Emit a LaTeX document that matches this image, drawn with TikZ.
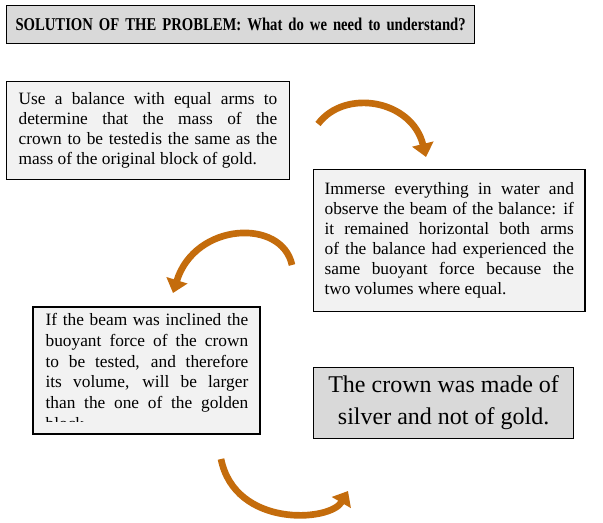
\documentclass[tikz,border=0pt]{standalone}
\usepackage{fontspec}
\setmainfont{Liberation Serif}
\newfontfamily\headfont[FakeStretch=0.815]{Liberation Serif}
\usetikzlibrary{positioning, arrows.meta}
\definecolor{boxgray}{HTML}{D9D9D9}
\definecolor{boxlight}{HTML}{F2F2F2}
\definecolor{curvorange}{HTML}{C46C0C}

\begin{document}
\begin{tikzpicture}[
        x=0.75pt, y=-0.75pt,
        headbox/.style={rectangle, draw=black, fill=boxgray, line width=0.9pt, anchor=north west,
          text width=345pt, align=center, font=\headfont\fontsize{13.5}{15}\selectfont\bfseries,
          minimum width=351pt, minimum height=28.5pt, inner sep=0pt},
        stepbox/.style={rectangle, draw=black, fill=boxlight, line width=0.9pt, anchor=north west,
          align=justify, font=\fontsize{13}{15}\selectfont, inner xsep=9pt, inner ysep=4pt},
        endbox/.style={rectangle, draw=black, fill=boxgray, line width=0.9pt, anchor=north west,
          align=center, font=\fontsize{18}{24}\selectfont, minimum width=195pt, minimum height=53.25pt},
        curvarrow/.style={-{Triangle[length=10pt,width=16pt]}, line width=5pt, draw=curvorange}
      ]
        \useasboundingbox (0,0) rectangle (603,522);

        \node[headbox] (title) at (6,5) {SOLUTION OF THE PROBLEM: What do we need to understand?};

        \node[stepbox, text width=194pt, minimum height=73.5pt] (mass) at (6,81)
          {Use a balance with equal arms to\linebreak determine that the mass of the\linebreak crown to be tested\hspace{1pt}is the same as the\linebreak mass of the original block of gold.};

        \node[stepbox, text width=187pt, inner xsep=8.25pt, minimum height=106.5pt] (water) at (313,169)
          {Immerse everything in water and\linebreak observe the beam of the balance: if\linebreak it remained horizontal both arms\linebreak of the balance had experienced the\linebreak same buoyant force because the\linebreak two volumes where equal.};

        % box first, then the text, whose last line is cut off
        \coordinate (inclnw) at (33,307);
        \coordinate (inclcut) at (260,434);
        \draw[fill=boxlight, line width=0.9pt] (inclnw) rectangle (inclcut);
        \begin{scope}
          \clip (33,307) rectangle (260,421.5);
          \node[stepbox, draw=none, fill=none, text width=152pt, inner ysep=4.5pt,
            font=\fontsize{13}{15.5}\selectfont] (incl) at (inclnw)
            {If the beam was inclined the\linebreak buoyant force of the crown\linebreak to be tested, and therefore\linebreak its volume, will be larger\linebreak than the one of the golden\linebreak block.};
        \end{scope}

        \node[endbox] (verdict) at (313,367) {The crown was made of\\silver and not of gold.};

        % curved arrows
        \coordinate (a1s) at (318,124);
        \coordinate (a1e) at (426,157);
        \coordinate (a2s) at (292,265);
        \coordinate (a2e) at (173,293);
        \coordinate (a3s) at (221,459);
        \coordinate (a3e) at (348,491);
        \draw[curvarrow] (a1s) .. controls (345,88) and (412,100) .. (a1e);
        \draw[curvarrow] (a2s) .. controls (282,218) and (195,222) .. (a2e);
        \draw[curvarrow] (a3s) .. controls (235,528) and (330,522) .. (a3e);
      \end{tikzpicture}
\end{document}
